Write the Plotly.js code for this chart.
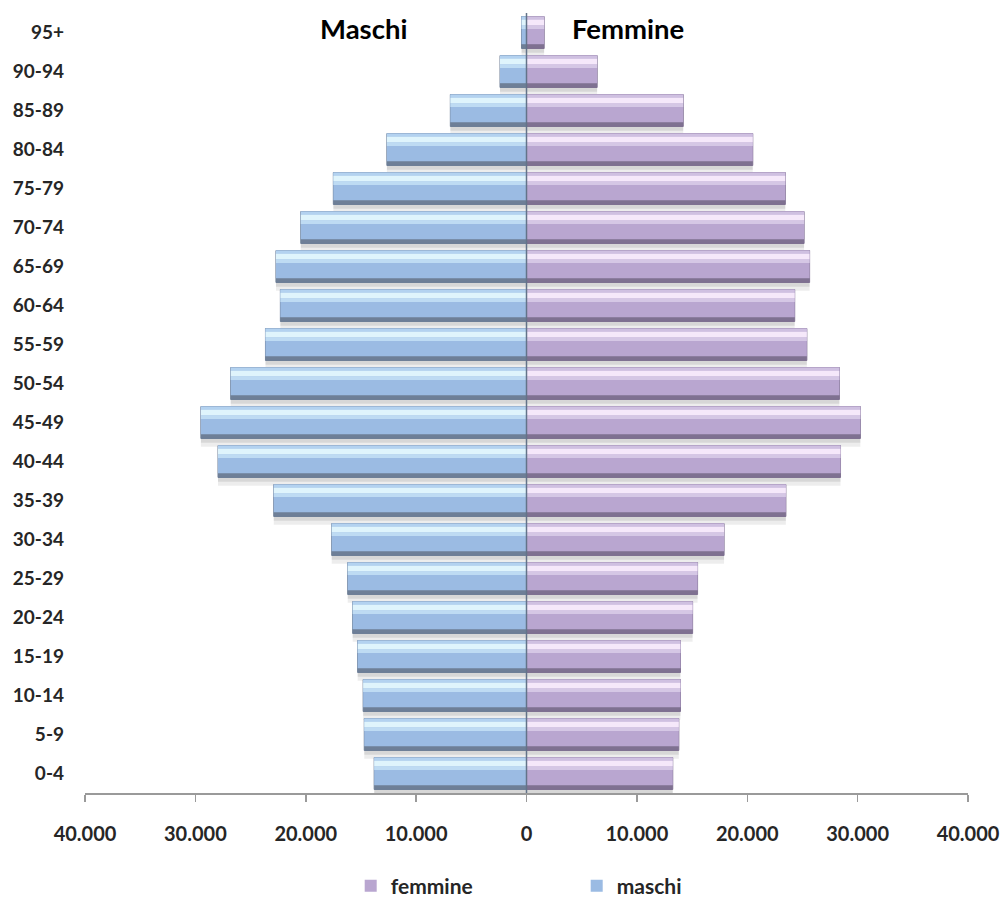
<!DOCTYPE html>
<html>
<head>
<meta charset="utf-8">
<script src="https://cdn.plot.ly/plotly-3.0.1.min.js"></script>
<style>
  html, body { margin: 0; padding: 0; background: #ffffff; }
  #chart { width: 1002px; height: 900px; }
</style>
</head>
<body>
<div id="chart"></div>
<script>
// Age classes, from youngest (bottom) to oldest (top)
const categorie = ['0-4', '5-9', '10-14', '15-19', '20-24', '25-29', '30-34', '35-39',
  '40-44', '45-49', '50-54', '55-59', '60-64', '65-69', '70-74', '75-79',
  '80-84', '85-89', '90-94', '95+'];

// Resident population by age class
const maschi = [13800, 14700, 14800, 15300, 15750, 16200, 17650, 22900,
  27950, 29500, 26800, 23650, 22300, 22700, 20450, 17500,
  12650, 6900, 2400, 450];
const femmine = [13250, 13800, 13950, 13950, 15050, 15500, 17900, 23500,
  28450, 30250, 28350, 25400, 24300, 25650, 25150, 23450,
  20500, 14200, 6400, 1600];

// X axis ticks (absolute values, Italian thousands separator)
const tickValori = [-40000, -30000, -20000, -10000, 0, 10000, 20000, 30000, 40000];
const tickTesti = ['40.000', '30.000', '20.000', '10.000', '0', '10.000', '20.000', '30.000', '40.000'];

const FONT = 'Lato, "Open Sans", "DejaVu Sans", sans-serif';

const palette = {
  maschi:  { body: '#9bbbe3', edge: '#6e7f97', top: '#b3d2f0', band: '#dff4fc', mid: '#bedbf3' },
  femmine: { body: '#b9a6d0', edge: '#7f7191', top: '#cfc0e1', band: '#f5e8fa', mid: '#d5c7e5' }
};

const BAR_W = 0.82;
const HALF = BAR_W / 2;

function bar(x, width, offset, color, extra) {
  return Object.assign({
    type: 'bar', orientation: 'h', y: categorie, x: x,
    width: width, offset: offset,
    marker: { color: color, line: { width: 0 } },
    hoverinfo: 'skip', showlegend: false
  }, extra || {});
}

// Soft drop shadow under each bar
function shadows(x) {
  return [
    bar(x, BAR_W, -HALF - 0.21, 'rgba(0,0,0,0.07)'),
    bar(x, BAR_W, -HALF - 0.11, 'rgba(0,0,0,0.09)')
  ];
}

// Bevelled bar: dark lower edge, body, light band near the top
function bevel(x, name, pal, rank) {
  return [
    bar(x, BAR_W, -HALF, pal.edge, { marker: { color: pal.edge, line: { color: pal.edge, width: 1 } } }),
    bar(x, BAR_W - 0.11, -HALF + 0.11, pal.body, {
      name: name, showlegend: true, legendrank: rank,
      marker: { color: pal.body, line: { width: 0 } }
    }),
    bar(x, 0.08, HALF - 0.08, pal.top),
    bar(x, 0.15, HALF - 0.23, pal.band),
    bar(x, 0.09, HALF - 0.32, pal.mid)
  ];
}

const xMaschi = maschi.map(v => -v);
const xFemmine = femmine.slice();

const traces = []
  .concat(shadows(xMaschi))
  .concat(shadows(xFemmine))
  .concat(bevel(xMaschi, 'maschi', palette.maschi, 2))
  .concat(bevel(xFemmine, 'femmine', palette.femmine, 1));

const layout = {
  width: 1002,
  height: 900,
  margin: { l: 85, r: 34, t: 13, b: 107, pad: 0 },
  paper_bgcolor: '#ffffff',
  plot_bgcolor: '#ffffff',
  barmode: 'overlay',
  font: { family: FONT, color: '#262626' },
  xaxis: {
    range: [-40000, 40000],
    tickmode: 'array',
    tickvals: tickValori,
    ticktext: tickTesti,
    showgrid: false,
    zeroline: false,
    showline: true,
    linecolor: '#9a9a9a',
    linewidth: 1.5,
    ticks: 'outside',
    ticklen: 7,
    tickwidth: 1.5,
    tickcolor: '#9a9a9a',
    ticklabelstandoff: 15,
    tickfont: { family: FONT, size: 20, color: '#262626', weight: 'bold' },
    automargin: false,
    fixedrange: true
  },
  yaxis: {
    type: 'category',
    categoryorder: 'array',
    categoryarray: categorie,
    range: [-0.5, categorie.length - 0.5],
    showgrid: false,
    zeroline: false,
    showline: false,
    ticks: '',
    ticklabelstandoff: 20,
    tickfont: { family: FONT, size: 19, color: '#262626', weight: 'bold' },
    automargin: false,
    fixedrange: true
  },
  shapes: [{
    type: 'line', layer: 'above',
    xref: 'x', x0: 0, x1: 0,
    yref: 'paper', y0: 0, y1: 1,
    line: { color: '#637389', width: 1.5 }
  }],
  annotations: [
    { text: 'Maschi', xref: 'x', x: -14800, yref: 'paper', y: 0.98,
      showarrow: false, xanchor: 'center', yanchor: 'middle',
      font: { family: FONT, size: 27.5, color: '#000000', weight: 'bold' } },
    { text: 'Femmine', xref: 'x', x: 9200, yref: 'paper', y: 0.98,
      showarrow: false, xanchor: 'center', yanchor: 'middle',
      font: { family: FONT, size: 27.5, color: '#000000', weight: 'bold' } }
  ],
  legend: {
    orientation: 'h',
    xref: 'container',
    yref: 'container',
    x: 0.35,
    xanchor: 'left',
    y: 0.0155,
    yanchor: 'middle',
    entrywidth: 181,
    entrywidthmode: 'pixels',
    font: { family: FONT, size: 21, color: '#262626', weight: 'bold' },
    bgcolor: 'rgba(0,0,0,0)'
  },
  showlegend: true
};

Plotly.newPlot('chart', traces, layout, { displayModeBar: false, staticPlot: true });
</script>
</body>
</html>
